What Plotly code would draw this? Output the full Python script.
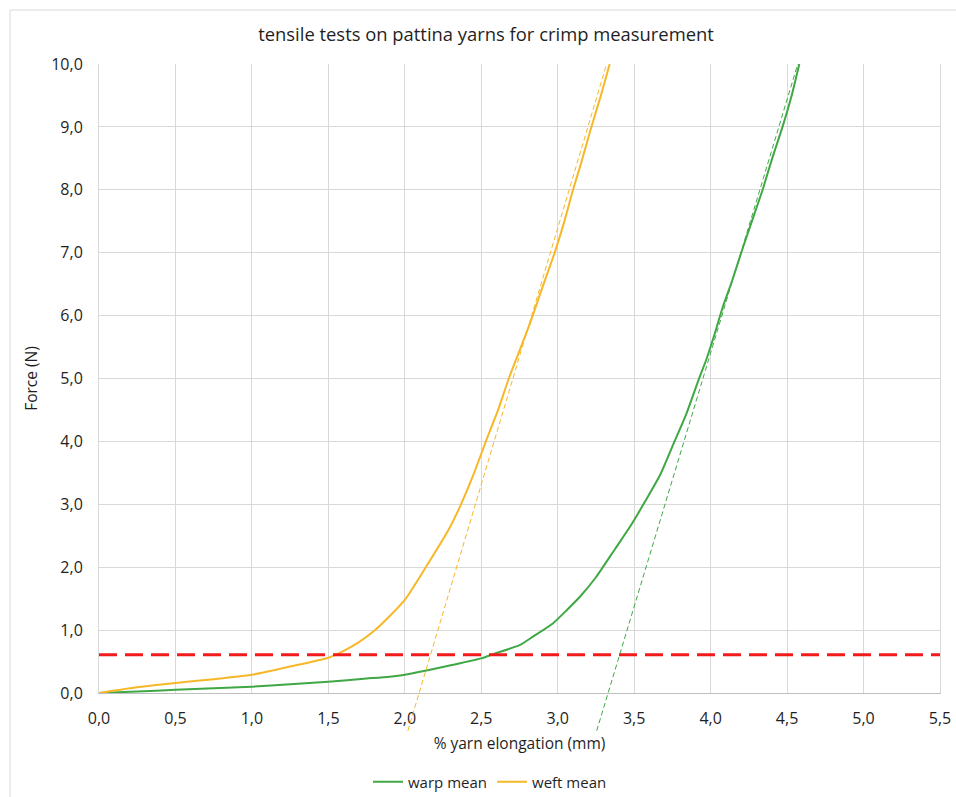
import plotly.graph_objects as go

# ---------------- data ----------------
warp_x = [0.0, 0.25, 0.5, 0.75, 1.0, 1.25, 1.5, 1.75, 1.9, 2.0, 2.165, 2.3, 2.5, 2.58,
          2.75, 2.84, 2.97, 3.06, 3.145, 3.25, 3.375, 3.48, 3.57, 3.67, 3.755, 3.84,
          3.92, 3.97, 4.02, 4.08, 4.14, 4.20, 4.26, 4.34, 4.40, 4.47, 4.53, 4.58]
warp_y = [0.0, 0.025, 0.05, 0.075, 0.10, 0.14, 0.18, 0.23, 0.26, 0.29, 0.37, 0.44, 0.55, 0.62,
          0.76, 0.90, 1.11, 1.32, 1.53, 1.84, 2.29, 2.67, 3.04, 3.47, 3.95, 4.43,
          4.97, 5.29, 5.66, 6.14, 6.55, 7.0, 7.43, 8.0, 8.48, 9.0, 9.5, 10.0]

weft_x = [0.0, 0.25, 0.5, 0.75, 1.0, 1.25, 1.5, 1.6, 1.7, 1.8, 1.9, 2.0, 2.14, 2.285,
          2.36, 2.45, 2.53, 2.61, 2.68, 2.81, 2.90, 2.98, 3.04, 3.10, 3.15, 3.22, 3.28, 3.34]
weft_y = [0.0, 0.09, 0.16, 0.22, 0.29, 0.42, 0.56, 0.67, 0.81, 0.99, 1.22, 1.48, 2.01, 2.59,
          2.96, 3.48, 4.0, 4.5, 5.0, 5.82, 6.45, 7.0, 7.47, 8.0, 8.4, 9.0, 9.48, 10.0]

# tangent lines (endpoints)
weft_tan_x = [2.02, 3.32]
weft_tan_y = [-0.6, 10.0]
warp_tan_x = [3.255, 4.57]
warp_tan_y = [-0.6, 10.0]

# threshold (crimp force) line
threshold_x = [0.0, 5.5]
threshold_y = [0.61, 0.61]

x_range = [0.0, 5.5]
y_range = [0.0, 10.0]

title_text = "tensile tests on pattina yarns for crimp measurement"
x_title = "% yarn elongation (mm)"
y_title = "Force (N)"
series_names = ["warp mean", "weft mean"]

# ---------------- styling / layout ----------------
GREEN = "#3FA845"
ORANGE = "#F6B828"
RED = "#F21B1B"
GRID = "#D9D9D9"
TEXT = "#1F1F1F"
FONT = "Open Sans"

W, H = 956, 797
# target pixel positions in the window
PL, PR, PT, PB = 99, 940, 64, 740   # plot-area box (incl. extension below y=0)
Y0_PX = 693                          # pixel row of y = 0

L, T = PL, PT
R = W - PR
B = H - PB
plot_w = W - L - R
plot_h = H - T - B
d = (PB - Y0_PX) / plot_h            # fraction of plot area below y = 0
ext_min = y_range[0] - d / (1 - d) * (y_range[1] - y_range[0])


def xp(px):
    """window pixel column -> paper x"""
    return (px - PL) / plot_w


def yp(py):
    """window pixel row -> paper y"""
    return (PB - py) / plot_h


fig = go.Figure()

fig.add_trace(go.Scatter(x=warp_x, y=warp_y, mode="lines", name=series_names[0],
                         line=dict(color=GREEN, width=2, shape="spline", smoothing=0.6)))
fig.add_trace(go.Scatter(x=weft_x, y=weft_y, mode="lines", name=series_names[1],
                         line=dict(color=ORANGE, width=2, shape="spline", smoothing=0.6)))
fig.add_trace(go.Scatter(x=threshold_x, y=threshold_y, mode="lines", showlegend=False,
                         line=dict(color=RED, width=3, dash="18px,8px")))
fig.add_trace(go.Scatter(x=weft_tan_x, y=weft_tan_y, mode="lines", showlegend=False,
                         xaxis="x2", yaxis="y2",
                         line=dict(color=ORANGE, width=1, dash="5px,3px")))
fig.add_trace(go.Scatter(x=warp_tan_x, y=warp_tan_y, mode="lines", showlegend=False,
                         xaxis="x2", yaxis="y2",
                         line=dict(color=GREEN, width=1, dash="5px,3px")))

fig.update_layout(
    width=W, height=H,
    margin=dict(l=L, r=R, t=T, b=B, autoexpand=False),
    paper_bgcolor="white",
    plot_bgcolor="rgba(0,0,0,0)",
    separators=", ",
    font=dict(family=FONT, color=TEXT),
    title=dict(text=title_text, x=xp(486), xref="paper", xanchor="center",
               y=1 - 35 / H, yref="container", yanchor="middle",
               font=dict(size=18.4, color=TEXT, family=FONT)),
    xaxis=dict(domain=[0, 1], range=x_range, anchor="y", tick0=0, dtick=0.5,
               tickformat=".1f", showgrid=True, gridcolor=GRID, gridwidth=1,
               zeroline=False, showline=True, linecolor="#BFBFBF", linewidth=1,
               ticks="", ticklabelstandoff=11,
               tickfont=dict(size=16, color=TEXT),
               title=dict(text=x_title, font=dict(size=15.5, color=TEXT), standoff=9),
               automargin=False),
    yaxis=dict(domain=[d, 1], range=y_range, anchor="x", tick0=0, dtick=1,
               tickformat=".1f", showgrid=True, gridcolor=GRID, gridwidth=1,
               zeroline=False, showline=True, linecolor=GRID, linewidth=1, mirror=True,
               ticks="", ticklabelstandoff=12,
               tickfont=dict(size=16, color=TEXT),
               title=dict(text=y_title, font=dict(size=15.5, color=TEXT), standoff=9),
               automargin=False),
    xaxis2=dict(domain=[0, 1], range=x_range, anchor="y2", visible=False,
                fixedrange=True),
    yaxis2=dict(domain=[0, 1], range=[ext_min, y_range[1]], anchor="x2", visible=False,
                fixedrange=True),
    legend=dict(orientation="h", x=xp(490), xanchor="center", y=yp(782),
                yanchor="middle", font=dict(size=15, color=TEXT),
                bgcolor="rgba(0,0,0,0)", itemwidth=30, tracegroupgap=0),
    showlegend=True,
    shapes=[
        dict(type="line", xref="paper", yref="paper", x0=xp(10), x1=xp(10),
             y0=yp(10), y1=yp(H), line=dict(color=GRID, width=1)),
        dict(type="line", xref="paper", yref="paper", x0=xp(10), x1=xp(W),
             y0=yp(10), y1=yp(10), line=dict(color=GRID, width=1)),
    ],
)

fig.write_html(
    "out.html",
    config={"displayModeBar": False},
    post_script="document.body.style.margin='0';document.body.style.overflow='hidden';",
)
